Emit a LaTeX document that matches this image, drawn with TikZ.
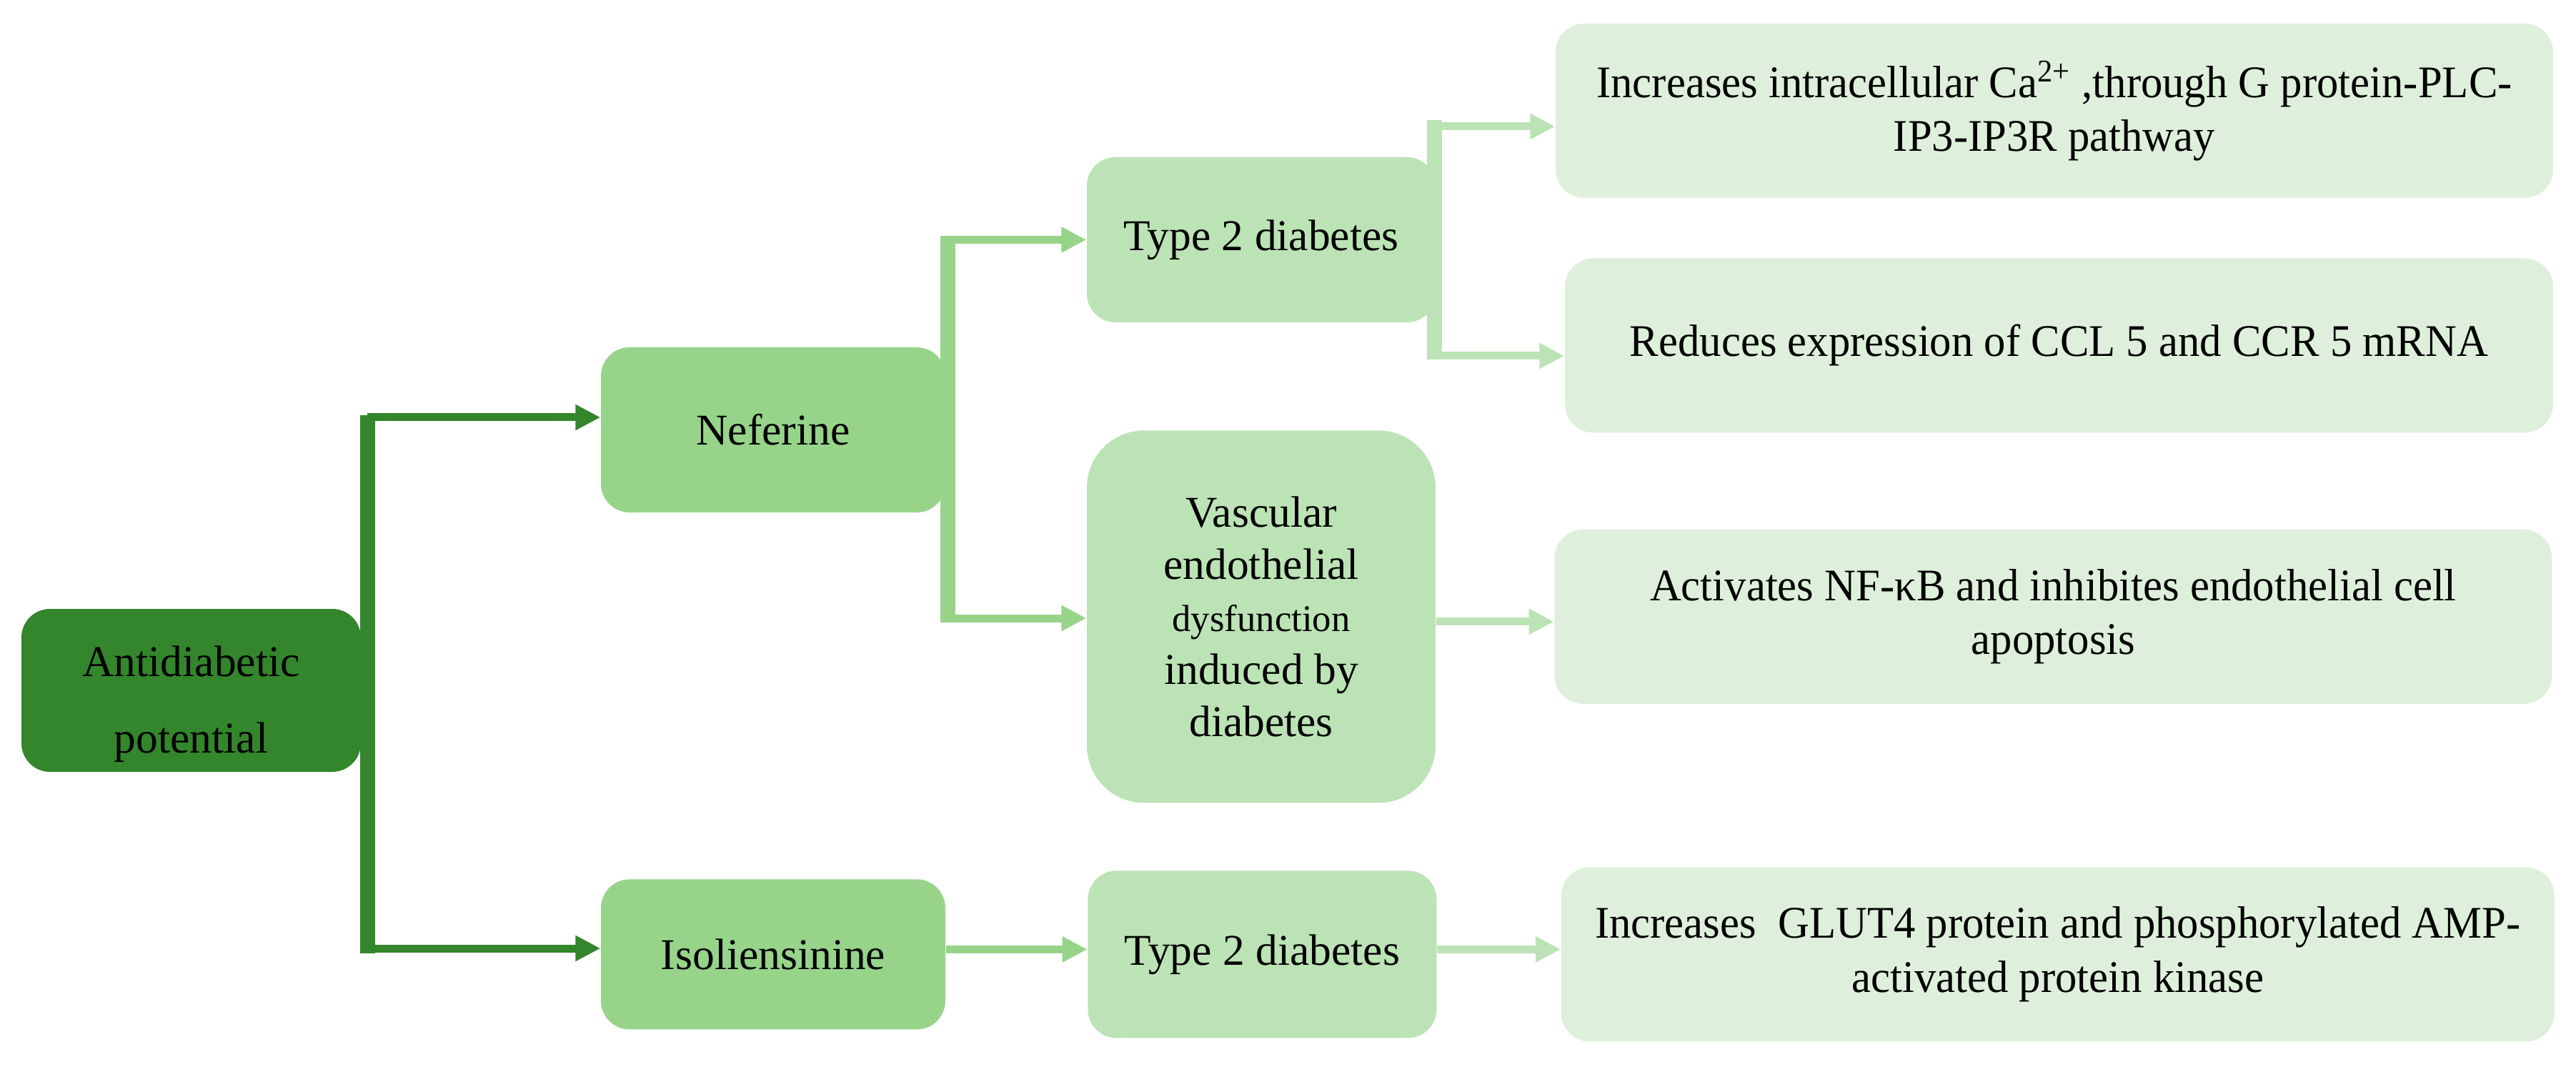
\documentclass[tikz,border=0pt]{standalone}
\usepackage{fontspec}
\setmainfont{Liberation Serif}
\newfontfamily\condserif[FakeStretch=0.96]{Liberation Serif}
\usepackage{xcolor}
\usetikzlibrary{positioning,arrows.meta}

\definecolor{dkgreen}{RGB}{51,134,43}
\definecolor{midgreen}{RGB}{151,212,138}
\definecolor{ltgreen}{RGB}{188,227,181}
\definecolor{palegreen}{RGB}{222,240,219}

\newcommand{\boxfont}{\fontsize{17.5}{30.7}\selectfont}
\newcommand{\effectfont}{\condserif\fontsize{18}{21.5}\selectfont}

\begin{document}
\begin{tikzpicture}[
    box/.style={rounded corners=0.4cm, align=center, inner sep=0pt, text=black, font=\boxfont},
    root/.style={box, fill=dkgreen, minimum width=4.75cm, minimum height=2.28cm},
    drug/.style={box, fill=midgreen, minimum width=4.82cm, minimum height=2.31cm},
    cond/.style={box, fill=ltgreen, minimum width=4.88cm, minimum height=2.31cm},
    effect/.style={box, fill=palegreen, minimum width=13.96cm, minimum height=2.44cm, font=\effectfont},
    arrow/.style={-{Triangle[length=0.35cm,width=0.34cm]}, line width=0.11cm},
    bar/.style={line width=0.21cm}
  ]
    \useasboundingbox (0,0) rectangle (36.05,-14.93);

    % boxes
    \node[root] (anti) at (2.675,-9.66) {\rule{0pt}{0.81cm}Antidiabetic\\potential};
    \node[drug] (nef) at (10.82,-6.015) {Neferine};
    \node[drug, below=5.12cm of nef, minimum height=2.10cm] (iso) {Isoliensinine};
    \node[cond] (t2a) at (17.65,-3.355) {Type 2 diabetes};
    \node[cond, below=1.50cm of t2a, minimum height=5.21cm, rounded corners=0.8cm,
          font=\fontsize{17.5}{20.8}\selectfont] (vasc)
      {Vascular\\endothelial\\{\fontsize{15}{20.8}\selectfont dysfunction}\\induced by\\diabetes};
    \node[cond, right=1.98cm of iso, minimum height=2.34cm] (t2b) {Type 2 diabetes};
    \node[effect] (ca) at (28.75,-1.55)
      {Increases intracellular Ca\textsuperscript{2+} ,through G protein-PLC-\\IP3-IP3R pathway};
    \node[effect, below=0.83cm of ca, xshift=0.065cm, minimum width=13.83cm] (red)
      {Reduces expression of CCL 5 and CCR 5 mRNA};
    \node[effect, right=1.65cm of vasc] (act)
      {Activates NF-κB and inhibites endothelial cell\\apoptosis};
    \node[effect, right=1.73cm of t2b, minimum width=13.90cm] (glut)
      {Increases\ \ GLUT4 protein and phosphorylated AMP-\\activated protein kinase};

    % trunk from the root
    \coordinate (t1) at (5.14,-5.84);
    \coordinate (t2) at (5.14,-13.27);
    \draw[bar, dkgreen] ([yshift=0.03cm]t1) -- ([yshift=-0.07cm]t2);
    \draw[arrow, dkgreen] (t1) -- (t1 -| nef.west);
    \draw[arrow, dkgreen] (t2) -- (t2 -| iso.west);

    % neferine branch
    \coordinate (n1) at (13.265,-3.355);
    \coordinate (n2) at (13.265,-8.65);
    \draw[bar, midgreen] ([yshift=0.05cm]n1) -- ([yshift=-0.06cm]n2);
    \draw[arrow, midgreen] (n1) -- (n1 -| t2a.west);
    \draw[arrow, midgreen] (n2) -- (n2 -| vasc.west);
    \draw[arrow, midgreen] ([yshift=0.07cm]iso.east) -- ([yshift=0.07cm]iso.east -| t2b.west);

    % type 2 diabetes branch
    \coordinate (c1) at (20.075,-1.77);
    \coordinate (c2) at (20.075,-4.98);
    \draw[bar, ltgreen] ([yshift=0.09cm]c1) -- ([yshift=-0.05cm]c2);
    \draw[arrow, ltgreen] (c1) -- (c1 -| ca.west);
    \draw[arrow, ltgreen] (c2) -- (c2 -| red.west);
    \draw[arrow, ltgreen] ([yshift=-0.07cm]vasc.east) -- ([yshift=-0.07cm]vasc.east -| act.west);
    \draw[arrow, ltgreen] ([yshift=0.07cm]t2b.east) -- ([yshift=0.07cm]t2b.east -| glut.west);
  \end{tikzpicture}
\end{document}
